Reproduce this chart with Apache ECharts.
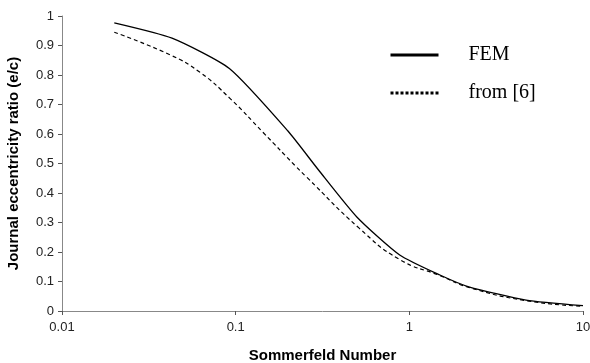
<!DOCTYPE html>
<html>
<head>
<meta charset="utf-8">
<script src="https://cdn.jsdelivr.net/npm/echarts@6/dist/echarts.min.js"></script>
<style>
  html, body { margin: 0; padding: 0; background: #fff; }
  #chart { width: 590px; height: 363px; }
</style>
</head>
<body>
<div id="chart"></div>
<script>
// Sommerfeld number vs journal eccentricity ratio
const femS = [0.02, 0.043, 0.092, 0.2, 0.3, 0.5, 0.88, 1.5, 2.2, 4.7, 10]
const femE = [0.977, 0.925, 0.822, 0.61, 0.478, 0.318, 0.19, 0.122, 0.082, 0.037, 0.018]

const refS = [0.02, 0.042, 0.062, 0.093, 0.144, 0.223, 0.255, 0.516, 0.877, 1.5, 2.2, 4.7, 10]
const refE = [0.945, 0.868, 0.81, 0.72, 0.605, 0.489, 0.455, 0.28, 0.175, 0.12, 0.08, 0.035, 0.016]

const seriesNames = ['FEM', 'from [6]']

const chart = echarts.init(document.getElementById('chart'))

const axisFont = {
  color: '#222',
  fontSize: 13,
  fontFamily: 'Liberation Sans'
}

const nameFont = {
  color: '#000',
  fontSize: 15,
  fontWeight: 'bold',
  fontFamily: 'Liberation Sans'
}

chart.setOption({
  backgroundColor: '#fff',
  animation: false,
  grid: {
    left: 62,
    right: 7,
    top: 16,
    bottom: 52,
    outerBoundsMode: 'none'
  },
  legend: {
    orient: 'vertical',
    left: 389,
    top: 45,
    padding: 0,
    itemWidth: 48,
    itemHeight: 20,
    itemGap: 18,
    itemStyle: { opacity: 0 },
    textStyle: {
      color: '#000',
      fontSize: 20,
      lineHeight: 20,
      fontFamily: 'Liberation Serif',
      padding: [0, 0, 0, 25]
    },
    data: [
      { name: seriesNames[0], lineStyle: { width: 3, type: 'solid', color: '#000' } },
      { name: seriesNames[1], lineStyle: { width: 3, type: [3, 2], color: '#000' } }
    ]
  },
  xAxis: {
    type: 'log',
    logBase: 10,
    min: 0.01,
    max: 10,
    name: 'Sommerfeld Number',
    nameLocation: 'middle',
    nameGap: 37,
    nameTextStyle: nameFont,
    axisLine: { lineStyle: { color: '#888', width: 1 } },
    axisTick: { show: true, length: 4, lineStyle: { color: '#555' } },
    minorTick: { show: false },
    splitLine: { show: false },
    axisLabel: Object.assign({ margin: 10 }, axisFont)
  },
  yAxis: {
    type: 'value',
    min: 0,
    max: 1,
    interval: 0.1,
    name: 'Journal eccentricity ratio (e/c)',
    nameLocation: 'middle',
    nameGap: 41,
    nameTextStyle: nameFont,
    axisLine: { show: true, lineStyle: { color: '#888', width: 1 } },
    axisTick: { show: true, length: 4, lineStyle: { color: '#555' } },
    splitLine: { show: false },
    axisLabel: Object.assign({ margin: 8 }, axisFont)
  },
  series: [
    {
      name: seriesNames[0],
      type: 'line',
      symbol: 'none',
      smooth: 0.2,
      lineStyle: { color: '#000', width: 1.3, type: 'solid' },
      itemStyle: { color: '#000' },
      data: femS.map((s, i) => [s, femE[i]])
    },
    {
      name: seriesNames[1],
      type: 'line',
      symbol: 'none',
      smooth: true,
      lineStyle: { color: '#000', width: 1.2, type: [4, 3] },
      itemStyle: { color: '#000' },
      data: refS.map((s, i) => [s, refE[i]])
    }
  ]
})
</script>
</body>
</html>
